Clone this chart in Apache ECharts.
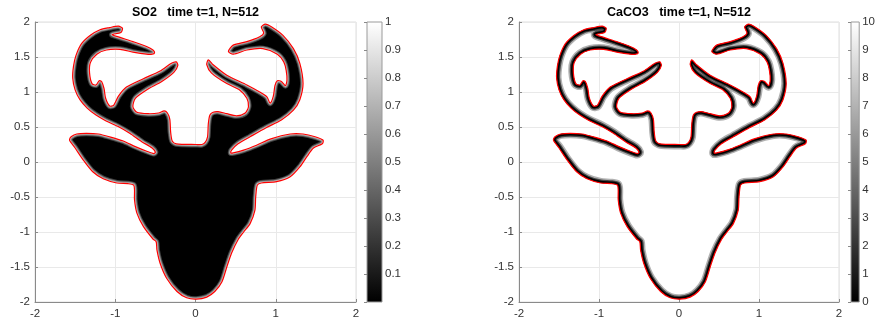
<!DOCTYPE html>
<html><head><meta charset="utf-8">
<script src="https://cdn.jsdelivr.net/npm/echarts@6/dist/echarts.min.js"></script>
<style>html,body{margin:0;padding:0;background:#fff}#c{width:878px;height:324px}</style>
</head><body><div id="c"></div>
<script>
// Deer outline (data coordinates), shared by both panels
const OUTLINE_X = [0.01,-0.11,-0.23,-0.36,-0.44,-0.48,-0.49,-0.53,-0.65,-0.73,
-0.76,-0.76,-0.77,-0.84,-0.98,-1.15,-1.28,-1.40,-1.50,-1.56,
-1.57,-1.55,-1.48,-1.36,-1.21,-1.07,-0.90,-0.75,-0.60,-0.52,
-0.50,-0.54,-0.67,-0.82,-0.97,-1.12,-1.24,-1.35,-1.44,-1.50,
-1.53,-1.52,-1.49,-1.42,-1.31,-1.19,-1.07,-0.96,-0.91,-0.93,
-1.04,-0.94,-0.78,-0.61,-0.53,-0.51,-0.54,-0.61,-0.78,-0.94,
-1.11,-1.23,-1.31,-1.32,-1.29,-1.24,-1.20,-1.17,-1.14,-1.12,
-1.07,-1.02,-0.96,-0.86,-0.65,-0.44,-0.30,-0.24,-0.22,-0.27,
-0.42,-0.61,-0.75,-0.78,-0.73,-0.59,-0.46,-0.39,-0.35,-0.32,
-0.31,-0.29,-0.24,0.01,0.08,0.12,0.15,0.16,0.18,0.22,
0.28,0.39,0.51,0.62,0.66,0.64,0.55,0.39,0.20,0.14,
0.16,0.22,0.39,0.64,0.80,0.89,0.93,0.97,0.99,1.02,
1.07,1.12,1.14,1.13,1.10,1.02,0.84,0.64,0.47,0.41,
0.47,0.64,0.80,0.85,0.82,0.87,0.95,1.09,1.22,1.30,
1.34,1.30,1.22,1.07,0.88,0.68,0.53,0.45,0.44,0.47,
0.60,0.76,0.94,1.18,1.34,1.49,1.59,1.58,1.47,1.39,
1.30,1.18,1.01,0.82,0.77,0.75,0.74,0.68,0.60,0.53,
0.45,0.39,0.33,0.24,0.14];
const OUTLINE_Y = [-1.96,-1.94,-1.85,-1.66,-1.45,-1.26,-1.14,-1.10,-0.92,-0.73,
-0.54,-0.40,-0.33,-0.31,-0.30,-0.24,-0.14,0.03,0.20,0.29,
0.32,0.36,0.40,0.41,0.40,0.36,0.30,0.22,0.15,0.12,
0.14,0.20,0.29,0.41,0.51,0.59,0.67,0.77,0.89,1.03,
1.20,1.37,1.52,1.69,1.81,1.89,1.92,1.94,1.91,1.85,
1.82,1.78,1.72,1.65,1.60,1.56,1.54,1.54,1.57,1.61,
1.60,1.54,1.42,1.27,1.12,1.10,1.16,1.15,1.05,0.91,
0.80,0.81,0.94,1.07,1.19,1.30,1.41,1.43,1.38,1.28,
1.15,1.03,0.91,0.79,0.71,0.69,0.70,0.73,0.70,0.61,
0.43,0.30,0.26,0.25,0.25,0.28,0.36,0.55,0.67,0.71,
0.72,0.69,0.66,0.70,0.79,0.91,1.03,1.12,1.27,1.39,
1.46,1.39,1.24,1.10,1.00,0.93,0.84,0.94,1.09,1.16,
1.15,1.09,1.17,1.31,1.43,1.54,1.62,1.60,1.54,1.58,
1.67,1.72,1.79,1.84,1.93,1.97,1.93,1.81,1.62,1.41,
1.12,0.89,0.74,0.60,0.49,0.36,0.26,0.17,0.13,0.13,
0.17,0.24,0.33,0.40,0.40,0.36,0.31,0.26,0.20,0.08,
-0.07,-0.21,-0.28,-0.30,-0.33,-0.50,-0.69,-0.88,-1.00,-1.11,
-1.30,-1.50,-1.71,-1.85,-1.93];

const TITLES = ['SO2   time t=1, N=512', 'CaCO3   time t=1, N=512'];
const AXIS_RANGE = [-2, 2];
const X_TICK_STEP = 1;
const Y_TICK_STEP = 0.5;
const CBAR_RANGES = [[0, 1], [0, 10]];
const CBAR_STEPS = [0.1, 1];

const FONT = 'Liberation Sans, Arial, Helvetica, sans-serif';
const AXIS_COLOR = '#8a8a8a';
const LABEL_COLOR = '#333';
const SMOOTH = 0.25;

const PLOT_GRIDS = [
  {left: 35, top: 22, width: 321, height: 280},
  {left: 519, top: 22, width: 320, height: 280}
];
const CBAR_GRIDS = [
  {left: 367, top: 22, width: 15, height: 280},
  {left: 851, top: 22, width: 15, height: 280}
];

// edge bands: [lineWidth, color]
const BANDS = {
  so2: {fill: '#000', strokes: [[6, 'rgba(255,255,255,0.25)'], [4, 'rgba(255,255,255,0.4)'], [2, 'rgba(255,255,255,0.6)']]},
  caco3: {fill: '#fff', strokes: [[10, 'rgba(0,0,0,0.3)'], [7, 'rgba(0,0,0,0.6)'], [4.5, 'rgba(0,0,0,1)']]}
};

function makeShapeRender(kind) {
  return function (params, api) {
    const n = Math.min(OUTLINE_X.length, OUTLINE_Y.length);
    const pts = [];
    for (let i = 0; i < n; i++) pts.push(api.coord([OUTLINE_X[i], OUTLINE_Y[i]]));
    const shape = {points: pts, smooth: SMOOTH};
    const b = BANDS[kind];
    const layers = [{type: 'polygon', shape, style: {fill: b.fill, stroke: 'none'}}].concat(
      b.strokes.map(s => ({type: 'polygon', shape, style: {fill: 'none', stroke: s[1], lineWidth: s[0], lineJoin: 'round'}}))
    );
    return {
      type: 'group',
      children: [
        {type: 'group', clipPath: {type: 'polygon', shape}, children: layers},
        {type: 'polygon', shape, style: {fill: 'none', stroke: '#ff0000', lineWidth: 1.2, lineJoin: 'round'}}
      ]
    };
  };
}

function cbarRender(range) {
  return function (params, api) {
    const p0 = api.coord([0, range[1]]);
    const p1 = api.coord([1, range[0]]);
    return {
      type: 'rect',
      shape: {x: p0[0], y: p0[1], width: p1[0] - p0[0], height: p1[1] - p0[1]},
      style: {
        fill: new echarts.graphic.LinearGradient(0, 0, 0, 1, [
          {offset: 0, color: '#ffffff'}, {offset: 1, color: '#000000'}
        ])
      }
    };
  };
}

const grids = [];
const xAxes = [];
const yAxes = [];
const series = [];

PLOT_GRIDS.forEach((g, i) => {
  grids.push(Object.assign({show: true, borderColor: '#dedede', borderWidth: 1, backgroundColor: 'transparent'}, g));
  const common = {
    gridIndex: i, type: 'value', min: AXIS_RANGE[0], max: AXIS_RANGE[1],
    axisLine: {show: true, onZero: false, lineStyle: {color: AXIS_COLOR, width: 1}},
    axisTick: {show: true, inside: true, length: 3, lineStyle: {color: AXIS_COLOR}},
    axisLabel: {color: LABEL_COLOR, fontSize: 11.5, fontFamily: FONT},
    splitLine: {show: true, lineStyle: {color: '#e9e9e9', width: 1}}
  };
  xAxes.push(Object.assign({}, common, {interval: X_TICK_STEP, axisLabel: Object.assign({}, common.axisLabel, {margin: 6})}));
  yAxes.push(Object.assign({}, common, {interval: Y_TICK_STEP, axisLabel: Object.assign({}, common.axisLabel, {margin: 5})}));
  series.push({
    type: 'custom', xAxisIndex: i, yAxisIndex: i, coordinateSystem: 'cartesian2d',
    data: [[0, 0]], renderItem: makeShapeRender(i === 0 ? 'so2' : 'caco3'), silent: true, z: 2
  });
});

CBAR_GRIDS.forEach((g, j) => {
  const gi = 2 + j;
  const rng = CBAR_RANGES[j];
  grids.push(Object.assign({show: true, borderColor: '#9a9a9a', borderWidth: 1, backgroundColor: 'transparent', z: 6}, g));
  xAxes.push({gridIndex: gi, type: 'value', min: 0, max: 1, show: false});
  yAxes.push({
    gridIndex: gi, type: 'value', min: rng[0], max: rng[1], interval: CBAR_STEPS[j], position: 'right', z: 6,
    axisLine: {show: false},
    axisTick: {show: true, inside: true, length: 3, lineStyle: {color: '#8a8a8a'}},
    splitLine: {show: false},
    axisLabel: {
      color: LABEL_COLOR, fontSize: 11.5, fontFamily: FONT, margin: 3,
      formatter: v => (j === 0 && v === 0) ? '' : String(+v.toFixed(1))
    }
  });
  series.push({
    type: 'custom', xAxisIndex: gi, yAxisIndex: gi, coordinateSystem: 'cartesian2d',
    data: [[0, 0]], renderItem: cbarRender(rng), silent: true, z: 1
  });
});

const chart = echarts.init(document.getElementById('c'), null, {renderer: 'canvas'});
chart.setOption({
  animation: false,
  backgroundColor: '#ffffff',
  grid: grids,
  xAxis: xAxes,
  yAxis: yAxes,
  series: series,
  graphic: TITLES.map((t, i) => ({
    type: 'text',
    x: PLOT_GRIDS[i].left + PLOT_GRIDS[i].width / 2,
    y: 13,
    style: {text: t, textAlign: 'center', textVerticalAlign: 'middle', fill: '#000',
      fontSize: 12.5, fontWeight: 'bold', fontFamily: FONT}
  }))
});
</script></body></html>
